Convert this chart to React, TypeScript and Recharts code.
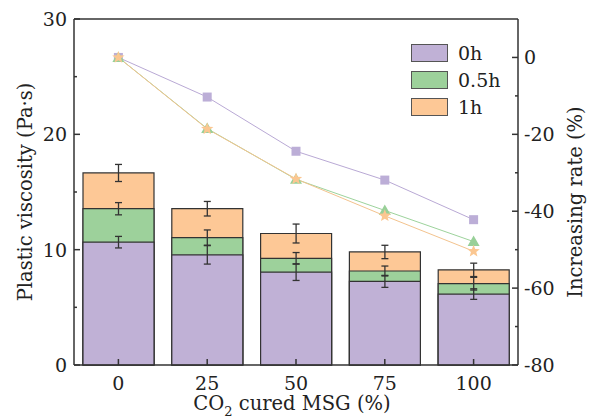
import { ComposedChart, Bar, Line, XAxis, YAxis, ErrorBar, ReferenceLine, Label } from 'recharts';

const categories = ['0', '25', '50', '75', '100'];
const seriesNames = ['0h', '0.5h', '1h'];

// plastic viscosity (Pa·s) and error ranges
const viscosity0h = [10.65, 9.55, 8.05, 7.25, 6.15];
const viscosity05h = [13.55, 11.05, 9.25, 8.15, 7.05];
const viscosity1h = [16.65, 13.55, 11.4, 9.8, 8.25];
const error0h = [0.5, 0.8, 0.72, 0.52, 0.46];
const error05h = [0.53, 0.66, 0.5, 0.43, 0.55];
const error1h = [0.74, 0.63, 0.82, 0.58, 0.58];

// increasing rate (%) relative to 0% MSG
const rate0h = [0, -10.3, -24.4, -31.9, -42.2];
const rate05h = [0, -18.5, -31.7, -39.8, -47.9];
const rate1h = [0, -18.6, -31.6, -41.2, -50.4];

const leftTicks = [0, 5, 10, 15, 20, 25, 30];
const rightTicks = [-80, -70, -60, -50, -40, -30, -20, -10, 0];

const barColors = ['#c0b1d6', '#9dd19b', '#fdc896'];
const lineColors = ['#b9a9d5', '#9dd39c', '#f3c38e'];
const FONT = 'DejaVu Serif';
const AXIS = '#333';
const TEXT = '#222';

const data = categories.map((name, i) => ({
  name,
  v0: viscosity0h[i],
  v05: viscosity05h[i],
  v1: viscosity1h[i],
  e0: error0h[i],
  e05: error05h[i],
  e1: error1h[i],
  r0: rate0h[i],
  r05: rate05h[i],
  r1: rate1h[i],
}));

const LeftTick = ({ x, y, payload }: any) => {
  const major = payload.value % 10 === 0;
  return (
    <g>
      <line x1={x + 7} x2={x + 7 + (major ? 6 : 3)} y1={y} y2={y} stroke={AXIS} strokeWidth={1.5} />
      {major && (
        <text x={x} y={y} dy="0.36em" textAnchor="end" fontSize={19} fontFamily={FONT} fill={TEXT}>
          {payload.value}
        </text>
      )}
    </g>
  );
};

const RightTick = ({ x, y, payload }: any) => {
  const major = payload.value % 20 === 0;
  return (
    <g>
      <line x1={x - 6} x2={x - 6 - (major ? 6 : 3)} y1={y} y2={y} stroke={AXIS} strokeWidth={1.5} />
      {major && (
        <text x={x} y={y} dy="0.36em" textAnchor="start" fontSize={19} fontFamily={FONT} fill={TEXT}>
          {payload.value}
        </text>
      )}
    </g>
  );
};

const BottomTick = ({ x, y, payload }: any) => (
  <g>
    <line x1={x} x2={x} y1={y} y2={y - 6} stroke={AXIS} strokeWidth={1.5} />
    <text x={x} y={y + 25} textAnchor="middle" fontSize={19} fontFamily={FONT} fill={TEXT}>
      {payload.value}
    </text>
  </g>
);

const squareDot = (props: any) => (
  <rect key={`sq-${props.index}`} x={props.cx - 4.5} y={props.cy - 4.5} width={9} height={9} fill="#bcaed7" />
);

const triangleDot = (props: any) => {
  const { cx, cy } = props;
  return (
    <polygon
      key={`tri-${props.index}`}
      points={`${cx},${cy - 6} ${cx - 6},${cy + 4.5} ${cx + 6},${cy + 4.5}`}
      fill="#98d098"
    />
  );
};

const starDot = (props: any) => {
  const { cx, cy } = props;
  const pts: string[] = [];
  for (let k = 0; k < 10; k++) {
    const r = k % 2 === 0 ? 6.5 : 2.8;
    const a = (Math.PI / 5) * k - Math.PI / 2;
    pts.push(`${cx + r * Math.cos(a)},${cy + r * Math.sin(a)}`);
  }
  return <polygon key={`star-${props.index}`} points={pts.join(' ')} fill="#fbc791" />;
};

const LeftTitle = ({ viewBox }: any) => {
  const cx = viewBox.x + 25;
  const cy = viewBox.y + viewBox.height / 2;
  return (
    <text x={cx} y={cy} transform={`rotate(-90 ${cx} ${cy})`} textAnchor="middle" dy="0.36em" fontSize={19.5} fontFamily={FONT} fill={TEXT}>
      Plastic viscosity (Pa·s)
    </text>
  );
};

const RightTitle = ({ viewBox }: any) => {
  const cx = viewBox.x + 57;
  const cy = 202;
  return (
    <text x={cx} y={cy} transform={`rotate(-90 ${cx} ${cy})`} textAnchor="middle" dy="0.36em" fontSize={19.5} fontFamily={FONT} fill={TEXT}>
      Increasing rate (%)
    </text>
  );
};

const BottomTitle = ({ viewBox }: any) => {
  const cx = viewBox.x + viewBox.width / 2 - 4;
  return (
    <text x={cx} y={viewBox.y + 45} textAnchor="middle" fontSize={19.5} fontFamily={FONT} fill={TEXT}>
      CO<tspan dy={6} fontSize={13}>2</tspan>
      <tspan dy={-6}> cured MSG (%)</tspan>
    </text>
  );
};

export default function App() {
  return (
    <div style={{ position: 'absolute', left: 0, top: 0, width: 590, height: 419, background: '#fff' }}>
      <ComposedChart
        width={590}
        height={419}
        data={data}
        margin={{ top: 19, right: 0, bottom: 0, left: 0 }}
        barSize={71}
        barGap={-71}
      >
        <XAxis
          dataKey="name"
          height={54}
          axisLine={{ stroke: AXIS, strokeWidth: 1.5 }}
          tickLine={false}
          tickSize={0}
          tickMargin={0}
          tick={<BottomTick />}
          interval={0}
        >
          <Label content={<BottomTitle />} />
        </XAxis>
        <YAxis
          yAxisId="left"
          width={74}
          domain={[0, 30]}
          ticks={leftTicks}
          interval={0}
          axisLine={{ stroke: AXIS, strokeWidth: 1.5 }}
          tickLine={false}
          tickSize={0}
          tickMargin={7}
          tick={<LeftTick />}
        >
          <Label content={<LeftTitle />} />
        </YAxis>
        <YAxis
          yAxisId="right"
          orientation="right"
          width={72}
          domain={[-80, 10]}
          ticks={rightTicks}
          interval={0}
          axisLine={{ stroke: AXIS, strokeWidth: 1.5 }}
          tickLine={false}
          tickSize={0}
          tickMargin={6}
          tick={<RightTick />}
        >
          <Label content={<RightTitle />} />
        </YAxis>
        <ReferenceLine yAxisId="left" y={30} stroke={AXIS} strokeWidth={1.5} />

        <Bar yAxisId="left" dataKey="v1" fill={barColors[2]} stroke={AXIS} strokeWidth={1.2} isAnimationActive={false}>
          <ErrorBar dataKey="e1" width={3.5} stroke={AXIS} strokeWidth={1.3} />
        </Bar>
        <Bar yAxisId="left" dataKey="v05" fill={barColors[1]} stroke={AXIS} strokeWidth={1.2} isAnimationActive={false}>
          <ErrorBar dataKey="e05" width={3.5} stroke={AXIS} strokeWidth={1.3} />
        </Bar>
        <Bar yAxisId="left" dataKey="v0" fill={barColors[0]} stroke={AXIS} strokeWidth={1.2} isAnimationActive={false}>
          <ErrorBar dataKey="e0" width={3.5} stroke={AXIS} strokeWidth={1.3} />
        </Bar>

        <Line yAxisId="right" dataKey="r0" stroke={lineColors[0]} strokeWidth={1} dot={squareDot} activeDot={false} isAnimationActive={false} />
        <Line yAxisId="right" dataKey="r05" stroke={lineColors[1]} strokeWidth={1} dot={triangleDot} activeDot={false} isAnimationActive={false} />
        <Line yAxisId="right" dataKey="r1" stroke={lineColors[2]} strokeWidth={1} dot={starDot} activeDot={false} isAnimationActive={false} />
      </ComposedChart>

      <div style={{ position: 'absolute', left: 411, top: 44, fontFamily: FONT, fontSize: 19, color: TEXT }}>
        {seriesNames.map((name, i) => (
          <div key={name} style={{ display: 'flex', alignItems: 'center', height: 18, marginBottom: 9 }}>
            <div style={{ width: 35, height: 16, background: barColors[i], border: '1px solid #555' }} />
            <span style={{ marginLeft: 10, lineHeight: '18px' }}>{name}</span>
          </div>
        ))}
      </div>
    </div>
  );
}
